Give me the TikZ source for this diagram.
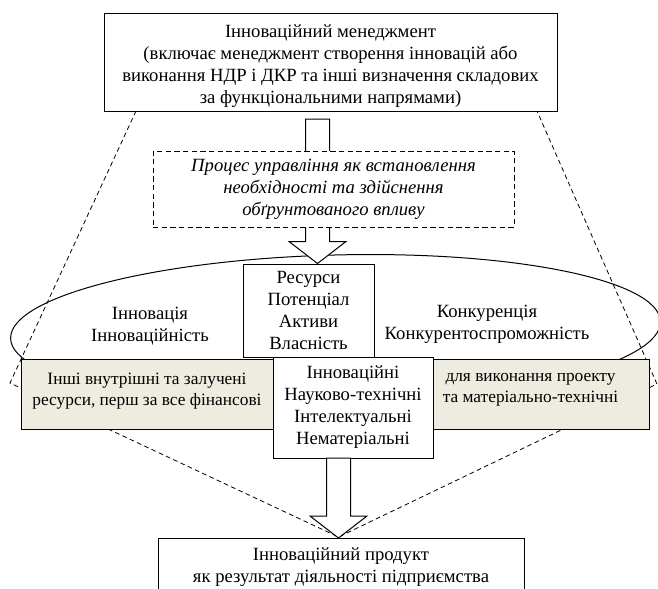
\documentclass[tikz,border=0pt]{standalone}
\usepackage{fontspec}
\setmainfont{Liberation Serif}
\usetikzlibrary{calc}
\definecolor{panelTan}{HTML}{EEECE1}
\newcommand{\pxu}{0.75pt}
% block arrow from #1 down to the tip #2
\newcommand{\blockarrow}[2]{%
  \draw[blockarr] ($(#1)+(-12,0)$) -- ($(#2)+(-12,-22)$) -- ($(#2)+(-28.5,-22)$) -- (#2)
    -- ($(#2)+(28.5,-22)$) -- ($(#2)+(12,-22)$) -- ($(#1)+(12,0)$) -- cycle;}
\tikzset{
  sized/.style 2 args={minimum width=#1*\pxu, minimum height=#2*\pxu},
  box/.style={draw, fill=white, align=center, inner sep=0pt},
  dashbox/.style={box, dash pattern=on 4pt off 2.5pt, font=\fontsize{14}{16.5}\selectfont\itshape},
  tanbox/.style={draw, fill=panelTan, inner sep=0pt},
  tantext/.style={align=center, inner sep=0pt, font=\fontsize{13}{15.75}\selectfont},
  blockarr/.style={draw, fill=white, line join=miter},
  guide/.style={line width=0.6pt, dash pattern=on 3.5pt off 2.5pt}
}
\begin{document}
\begin{tikzpicture}[x=0.75pt, y=-0.75pt, line width=0.75pt,
  every node/.append style={font=\fontsize{14}{16.5}\selectfont}]
  \useasboundingbox (0,0) rectangle (658,589);
  % big ellipse behind everything
  \draw[rotate around={1.5:(335.5,330)}] (335.5,330) ellipse [x radius=325, y radius=75];
  % dashed outline from the top box down to the product
  \coordinate (gTL) at (136,111);  \coordinate (gTR) at (537,111);
  \coordinate (gL)  at (10,383);   \coordinate (gR)  at (657,384);
  \coordinate (gB)  at (338.5,537);
  \draw[guide] (gTL) -- (gL) -- (gB) -- (gR) -- (gTR);
  % texts inside the ellipse
  \node[align=center, inner sep=0pt] (innov) at (150,326) {Інновація\\Інноваційність};
  \node[align=center, inner sep=0pt] (konk) at (487,324) {Конкуренція\\Конкурентоспроможність};
  % boxes
  \node[box, sized={453}{98}] (mgmt) at (330.5,62) {};
  \node[align=center, inner sep=0pt] at ($(mgmt.center)+(0,4)$)
    {Інноваційний менеджмент\\(включає менеджмент створення інновацій або\\виконання НДР і ДКР та інші визначення складових\\за функціональними напрямами)};
  \node[box, sized={131}{93}] (res) at (308.5,310.5) {Ресурси\\Потенціал\\Активи\\Власність};
  \coordinate (aTop) at (317.5,119);
  \blockarrow{aTop}{aTop |- res.north}
  \node[dashbox, sized={361}{76}] (proc) at (333.5,189)
    {Процес управління як встановлення\\необхідності та здійснення\\обґрунтованого впливу};
  \node[tanbox, sized={252}{70}] (leftp) at (147,394) {};
  \node[tantext, below=14*\pxu] at (leftp.north) {Інші внутрішні та залучені\\ресурси, перш за все фінансові};
  \node[tanbox, sized={237}{70}] (rightp) at (530.5,394) {};
  \node[tantext, below=14*\pxu] at (rightp.north) {для виконання проекту\\та матеріально-технічні};
  \node[box, sized={160}{101}] (kinds) at (353,407.5) {Інноваційні\\Науково-технічні\\Інтелектуальні\\Нематеріальні};
  \node[box, anchor=north, minimum width=366*\pxu, inner ysep=7pt] (prod) at (341,538)
    {Інноваційний продукт\\як результат діяльності підприємства\\[4pt]};
  \coordinate (aBot) at (338.5,458);
  \blockarrow{aBot}{aBot |- prod.north}
\end{tikzpicture}
\end{document}
